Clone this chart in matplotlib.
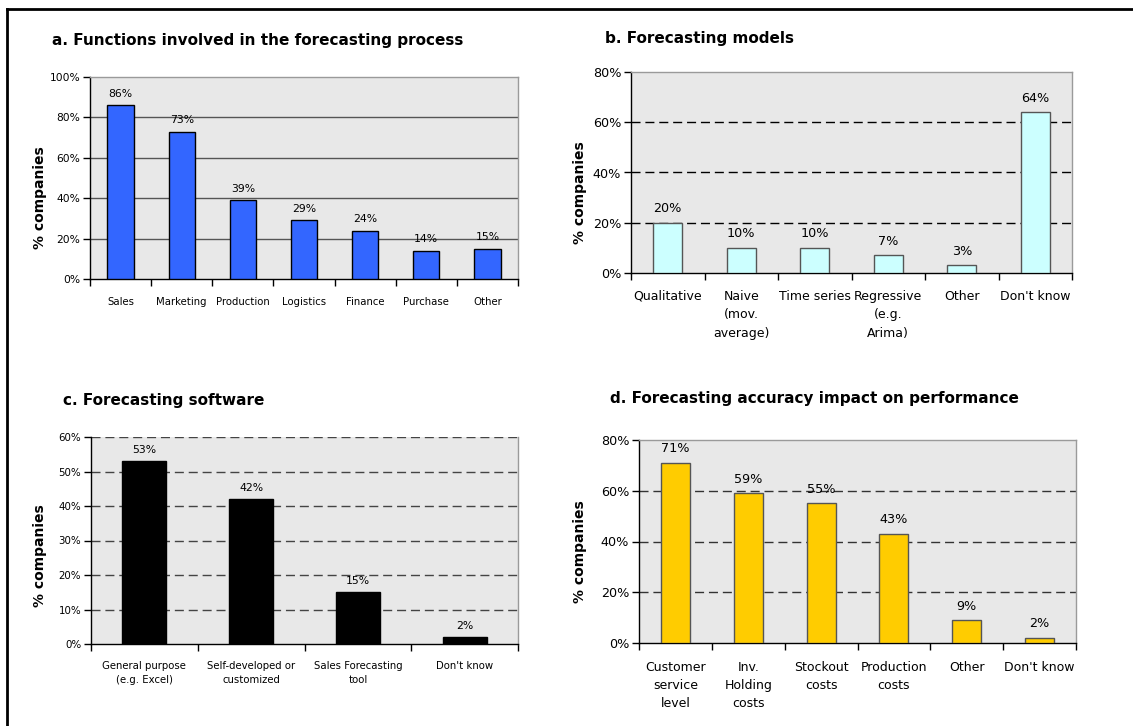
import matplotlib
matplotlib.use("Agg")
import matplotlib.pyplot as plt
from matplotlib.lines import Line2D
import numpy as np

# ---- data ----
func_labels = ["Sales", "Marketing", "Production", "Logistics", "Finance", "Purchase", "Other"]
func_values = [86, 73, 39, 29, 24, 14, 15]

model_labels = ["Qualitative", "Naive\n(mov.\naverage)", "Time series", "Regressive\n(e.g.\nArima)",
                "Other", "Don't know"]
model_values = [20, 10, 10, 7, 3, 64]

soft_labels = ["General purpose\n(e.g. Excel)", "Self-developed or\ncustomized",
               "Sales Forecasting\ntool", "Don't know"]
soft_values = [53, 42, 15, 2]

impact_labels = ["Customer\nservice\nlevel", "Inv.\nHolding\ncosts", "Stockout\ncosts",
                 "Production\ncosts", "Other", "Don't know"]
impact_values = [71, 59, 55, 43, 9, 2]

W, H = 1133, 726
DPI = 100
fig = plt.figure(figsize=(W / DPI, H / DPI), dpi=DPI)
fig.patch.set_facecolor("white")

FONT = "DejaVu Sans"
BG = "#E8E8E8"


def px_axes(x0, y0, x1, y1):
    return fig.add_axes([x0 / W, 1 - y1 / H, (x1 - x0) / W, (y1 - y0) / H])


def panel(box, labels, values, ymax, ystep, color, edge, grid_style, grid_color,
          tick_fs, xtick_fs, val_fs, bar_w, title, title_xy, title_fs, ylab_xy,
          top_dashed=False, val_pad=4.5, xpad=11, lsp=1.45):
    ax = px_axes(*box)
    ax.set_facecolor(BG)
    n = len(labels)
    x = np.arange(n) + 0.5
    ax.bar(x, values, width=bar_w, color=color, edgecolor=edge, linewidth=1.0, zorder=3)
    ax.set_xlim(0, n)
    ax.set_ylim(0, ymax)
    yt = np.arange(0, ymax + 0.001, ystep)
    ax.set_yticks(yt)
    ax.set_yticklabels([f"{int(v)}%" for v in yt], fontsize=tick_fs, family=FONT)
    # boundaries carry the ticks, centres carry the labels
    ax.set_xticks(np.arange(n + 1))
    ax.set_xticklabels([])
    ax.set_xticks(x, minor=True)
    ax.set_xticklabels(labels, minor=True, fontsize=xtick_fs, family=FONT, linespacing=lsp)
    ax.tick_params(axis="x", which="minor", length=0, pad=xpad)
    ax.tick_params(axis="x", which="major", length=5, width=1, direction="out", color="black")
    ax.tick_params(axis="y", length=5, width=1, direction="out", pad=2, color="black")
    for g in yt[1:]:
        if g >= ymax and not top_dashed:
            continue
        ax.axhline(g, color=grid_color, linestyle=grid_style, linewidth=1.0,
                   dashes=(6.5, 3.5) if grid_style == "--" else (None, None), zorder=1)
    ax.spines["left"].set_color("black")
    ax.spines["bottom"].set_color("black")
    ax.spines["left"].set_linewidth(1.0)
    ax.spines["bottom"].set_linewidth(1.0)
    for s in ("top", "right"):
        ax.spines[s].set_color("#9A9A9A")
        ax.spines[s].set_linewidth(1.0)
    if top_dashed:
        ax.spines["top"].set_visible(False)
    for xi, v in zip(x, values):
        ax.annotate(f"{v}%", (xi, v), xytext=(0, val_pad), textcoords="offset points",
                    ha="center", va="bottom", fontsize=val_fs, family=FONT, zorder=4)
    fig.text(title_xy[0] / W, 1 - title_xy[1] / H, title, fontsize=title_fs,
             fontweight="bold", family=FONT, ha="left", va="baseline")
    fig.text(ylab_xy[0] / W, 1 - ylab_xy[1] / H, "% companies", rotation=90, fontsize=10.0,
             fontweight="bold", family=FONT, ha="center", va="center")
    return ax


panel((90, 77, 518, 279), func_labels, func_values, 100, 20, "#3366FF", "black", "-", "#555555",
      7.7, 7.3, 7.8, 0.43, "a. Functions involved in the forecasting process", (52, 45), 11.0,
      (40, 198), xpad=13)

panel((631, 72, 1072, 273), model_labels, model_values, 80, 20, "#CCFFFF", "#555555", "--", "black",
      9.2, 9.0, 9.2, 0.4, "b. Forecasting models", (605, 43), 11.0, (580, 193),
      val_pad=5.5, xpad=12, lsp=1.55)

panel((91, 437, 518, 644), soft_labels, soft_values, 60, 10, "black", "black", "--", "#444444",
      7.4, 7.3, 7.8, 0.41, "c. Forecasting software", (63, 405), 11.0, (40, 556),
      top_dashed=True, xpad=12, lsp=1.6)

panel((639, 440, 1076, 643), impact_labels, impact_values, 80, 20, "#FFCC00", "#555555", "--", "#333333",
      9.2, 9.0, 9.2, 0.4, "d. Forecasting accuracy impact on performance", (610, 403), 11.0,
      (580, 552), val_pad=5.5, xpad=13, lsp=1.5)

# outer frame: top and left rules
fig.add_artist(Line2D([7 / W, 1], [1 - 9 / H, 1 - 9 / H], color="black", linewidth=2.0))
fig.add_artist(Line2D([7 / W, 7 / W], [0, 1 - 9 / H], color="black", linewidth=2.0))

fig.savefig("out.png", dpi=DPI)
